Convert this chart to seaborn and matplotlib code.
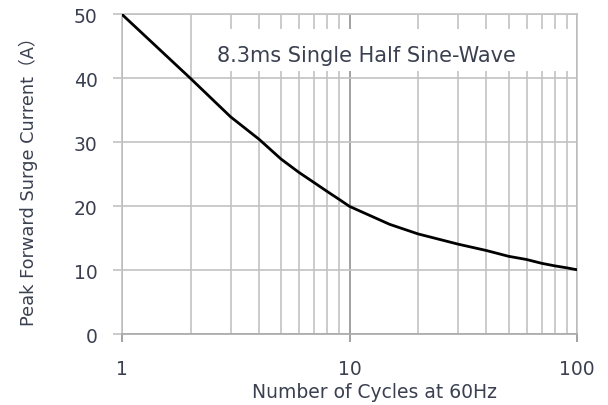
import matplotlib
matplotlib.use("Agg")
import matplotlib.pyplot as plt
import seaborn as sb
from matplotlib.patches import Rectangle
from matplotlib.ticker import FixedLocator, NullFormatter


cycles = [1, 2, 3, 4, 5, 6, 7, 8, 9, 10, 15, 20, 30, 40, 50, 60, 70, 80, 90, 100]
surge_current = [50, 40, 34, 30.5, 27.4, 25.3, 23.7, 22.3, 21.1, 20, 17.2, 15.7,
                 14.1, 13.1, 12.2, 11.7, 11.1, 10.7, 10.4, 10.1]

x_major = [1, 10, 100]
x_minor = [2, 3, 4, 5, 6, 7, 8, 9, 20, 30, 40, 50, 60, 70, 80, 90]
y_ticks = [0, 10, 20, 30, 40, 50]

note = "8.3ms Single Half Sine-Wave"
x_title = "Number of Cycles at 60Hz"
y_title = "Peak Forward Surge Current（A）"

txt_color = '#3a4050'
grid_color = '#c2c2c2'


sb.set_style("white")
plt.rcParams['font.family'] = ['DejaVu Sans', 'Noto Sans CJK SC']

fig = plt.figure(figsize=(6.08, 4.06), dpi=100)
ax = fig.add_axes([0.2007, 0.174, 0.7483, 0.788])

ax.set_xscale('log')
ax.set_xlim(1, 100)
ax.set_ylim(0, 50)

ax.xaxis.set_major_locator(FixedLocator(x_major))
ax.xaxis.set_minor_locator(FixedLocator(x_minor))
ax.xaxis.set_minor_formatter(NullFormatter())
ax.set_xticklabels([str(v) for v in x_major])
ax.set_yticks(y_ticks)

# grid
ax.grid(True, which='major', axis='y', color=grid_color, lw=1.2)
ax.grid(True, which='minor', axis='x', color=grid_color, lw=1.2)
ax.grid(True, which='major', axis='x', color='#9a9a9a', lw=1.3)

for s in ax.spines.values():
    s.set_color(grid_color)
    s.set_linewidth(1.2)
ax.spines['bottom'].set_color('#a8a8a8')

ax.tick_params(axis='x', which='major', bottom=True, length=6, width=1.3,
               color='#9a9a9a', pad=12, labelsize=13.5, labelcolor=txt_color)
ax.tick_params(axis='x', which='minor', bottom=False)
ax.tick_params(axis='y', left=True, length=6.5, width=1.2, color=grid_color,
               pad=11, labelsize=13.5, labelcolor=txt_color)

sb.lineplot(x=cycles, y=surge_current, ax=ax, color='black', lw=2, zorder=5)

# white text box over the grid
ax.add_patch(Rectangle((0.182, 0.823), 0.798, 0.131, transform=ax.transAxes,
                       facecolor='white', edgecolor='none', zorder=4))
ax.text(0.537, 0.872, note, transform=ax.transAxes, ha='center', va='center',
        fontsize=15, color=txt_color, zorder=6)

ax.set_xlabel(x_title, fontsize=13.5, color=txt_color)
ax.xaxis.set_label_coords(0.555, -0.148)
ax.set_ylabel(y_title, fontsize=12.8, color=txt_color)
ax.yaxis.set_label_coords(-0.185, 0.495)

plt.savefig('out.png', dpi=100)
